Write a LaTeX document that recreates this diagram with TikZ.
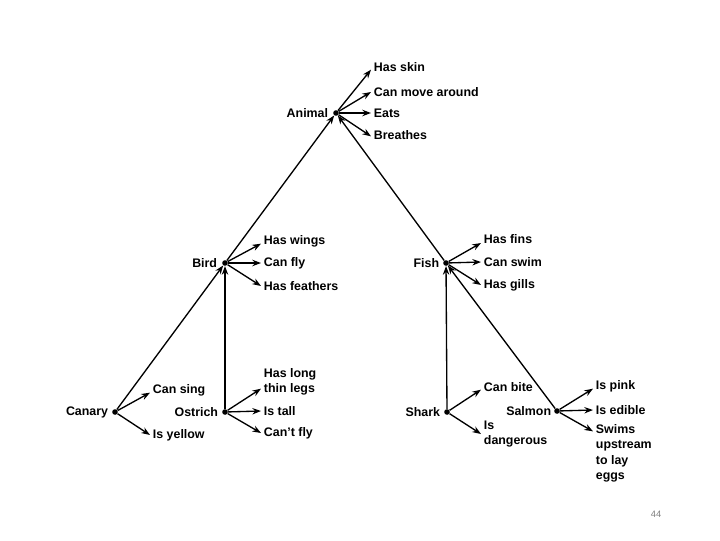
\documentclass[tikz,border=0pt]{standalone}
\usepackage{fontspec}
\setmainfont{Liberation Sans}
\usetikzlibrary{arrows.meta}

\tikzset{
  dot/.style={circle, fill=black, inner sep=0pt, minimum size=4.2pt},
  word/.style={font=\bfseries\fontsize{9.3}{11.3}\selectfont, inner sep=2pt, align=left},
  isa/.style={-{Stealth[length=6.5pt,width=4.8pt]}, line width=1pt},
}

\begin{document}
\begin{tikzpicture}[x=0.75pt, y=-0.75pt]
             \useasboundingbox (0,0) rectangle (720,540);

             % concepts
             \node[dot] (animal) at (336, 113) {};
             \node[dot] (bird) at (225, 263) {};
             \node[dot] (fish) at (446, 263) {};
             \node[dot] (canary) at (115, 412) {};
             \node[dot] (ostrich) at (225, 412) {};
             \node[dot] (shark) at (447, 412) {};
             \node[dot] (salmon) at (557, 411) {};

             \node[word, anchor=east] (animal-l) at (331, 113) {Animal};
             \node[word, anchor=east] (bird-l) at (220, 263) {Bird};
             \node[word, anchor=east] (fish-l) at (442, 263) {Fish};
             \node[word, anchor=east] (canary-l) at (111, 412) {Canary};
             \node[word, anchor=east] (ostrich-l) at (221, 412) {Ostrich};
             \node[word, anchor=east] (shark-l) at (443, 412) {Shark};
             \node[word, anchor=east] (salmon-l) at (554, 411) {Salmon};

             \draw[isa] (bird) -- (animal);
             \draw[isa] (fish) -- (animal);
             \draw[isa] (canary) -- (bird);
             \draw[isa] (ostrich) -- (bird);
             \draw[isa] (shark) -- (fish);
             \draw[isa] (salmon) -- (fish);

             % animal
             \node[word, anchor=west] (skin) at (371, 67) {Has skin};
             \node[word, anchor=west] (move) at (371, 92) {Can move around};
             \node[word, anchor=west] (eats) at (371, 113) {Eats};
             \node[word, anchor=west] (breathes) at (371, 135) {Breathes};
             \draw[isa] (animal) -- ([yshift=-2pt]skin.west);
             \draw[isa] (animal) -- (move.west);
             \draw[isa] (animal) -- (eats.west);
             \draw[isa] (animal) -- ([yshift=-1pt]breathes.west);

             % bird
             \node[word, anchor=west] (wings) at (261, 241) {Has wings};
             \node[word, anchor=west] (fly) at (261, 263) {Can fly};
             \node[word, anchor=west] (feathers) at (261, 286) {Has feathers};
             \draw[isa] (bird) -- ([yshift=-2pt]wings.west);
             \draw[isa] (bird) -- (fly.west);
             \draw[isa] (bird) -- (feathers.west);

             % fish
             \node[word, anchor=west] (fins) at (481, 239) {Has fins};
             \node[word, anchor=west] (swim) at (481, 262) {Can swim};
             \node[word, anchor=west] (gills) at (481, 285) {Has gills};
             \draw[isa] (fish) -- ([yshift=-3pt]fins.west);
             \draw[isa] (fish) -- (swim.west);
             \draw[isa] (fish) -- (gills.west);

             % canary
             \node[word, anchor=west] (sing) at (150, 390) {Can sing};
             \node[word, anchor=west] (yellow) at (150, 435) {Is yellow};
             \draw[isa] (canary) -- ([yshift=-2pt]sing.west);
             \draw[isa] (canary) -- (yellow.west);

             % ostrich
             \node[word, anchor=west] (legs) at (261, 382) {Has long\\thin legs};
             \node[word, anchor=west] (tall) at (261, 411) {Is tall};
             \node[word, anchor=west] (cantfly) at (261, 433) {Can't fly};
             \draw[isa] (ostrich) -- ([yshift=-5pt]legs.west);
             \draw[isa] (ostrich) -- (tall.west);
             \draw[isa] (ostrich) -- (cantfly.west);

             % shark
             \node[word, anchor=west] (bite) at (481, 387) {Can bite};
             \node[word, anchor=west] (dangerous) at (481, 434) {Is\\dangerous};
             \draw[isa] (shark) -- ([yshift=-2pt]bite.west);
             \draw[isa] (shark) -- (dangerous.west);

             % salmon
             \node[word, anchor=west] (pink) at (593, 386) {Is pink};
             \node[word, anchor=west] (edible) at (593, 410) {Is edible};
             \node[word, anchor=north west] (upstream) at (593, 422) {Swims\\upstream\\to lay\\eggs};
             \draw[isa] (salmon) -- ([yshift=-2pt]pink.west);
             \draw[isa] (salmon) -- (edible.west);
             \draw[isa] (salmon) -- ([yshift=-7pt]upstream.north west);

             \node[font=\fontsize{7}{8}\selectfont, text=gray] (page) at (656, 514) {44};
\end{tikzpicture}
\end{document}
